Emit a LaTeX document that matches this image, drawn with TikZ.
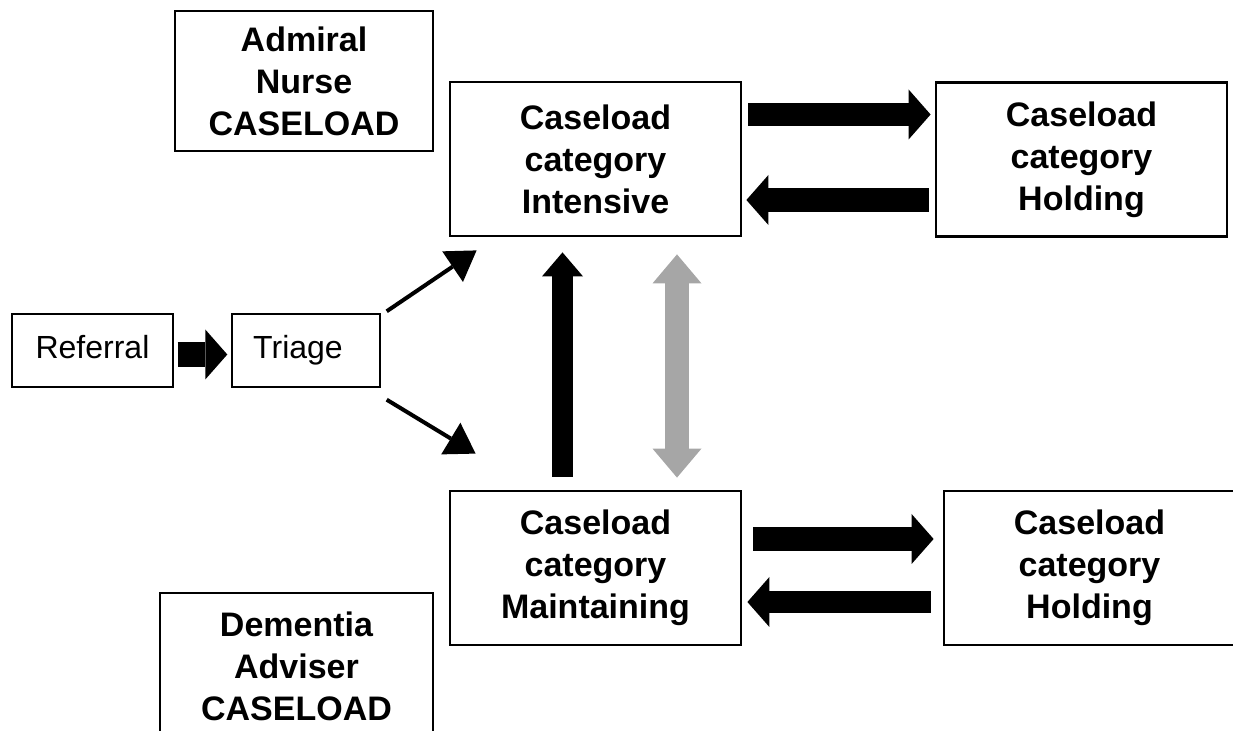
\documentclass[tikz,border=0pt]{standalone}
\usepackage{fontspec}
\setmainfont{Liberation Sans}
\usepackage{xcolor}
\usetikzlibrary{arrows.meta,positioning,calc}

\definecolor{arrowgrey}{HTML}{A6A6A6}

\tikzset{
  catbox/.style={draw, line width=1.4pt, inner sep=0pt, align=center,
    font=\bfseries\fontsize{17}{21}\selectfont,
    minimum width=145.5pt, minimum height=77pt},
  staffbox/.style={draw, line width=0.7pt, inner sep=0pt, align=center,
    font=\bfseries\fontsize{17}{21}\selectfont},
  flowbox/.style={draw, line width=0.7pt, inner sep=0pt,
    font=\fontsize{16}{20}\selectfont, minimum height=36.5pt,
    text height=11.5pt, text depth=3.5pt},
  fatarrow/.style={line width=11.5pt,
    -{Triangle[length=11pt,width=25pt,line width=0pt]}},
  thinarrow/.style={line width=2pt,
    -{Triangle[length=14.5pt,width=18.5pt,line width=0pt]}},
}

\begin{document}
\begin{tikzpicture}[x=0.5pt,y=-0.5pt]
    \useasboundingbox (0,0) rectangle (1233,731);
    \clip (0,0) rectangle (1233,731);

    % Staff caseloads
    \node[staffbox, minimum width=129pt, minimum height=70pt] (admiral) at (304,81)
      {Admiral\\Nurse\\CASELOAD};
    \node[staffbox, minimum width=136.5pt, minimum height=73.5pt] (dementia) at (296.5,666.5)
      {Dementia\\Adviser\\CASELOAD};

    % Entry
    \node[flowbox, minimum width=80.5pt] (referral) at (92.5,350.5) {Referral};
    \node[flowbox, minimum width=74pt] (triage) at (306,350.5) {Triage\hspace*{8pt}};

    % Caseload categories
    \node[catbox] (intensive) at (595.5,159) {Caseload\\category\\Intensive};
    \node[catbox] (holdtop) at (1081.5,159.5) {Caseload\\category\\Holding};
    \node[catbox] (maintain) at (595.5,568) {Caseload\\category\\Maintaining};
    \node[catbox] (holdbot) at (1089.5,568) {Caseload\\category\\Holding};

    % Referral to triage
    \coordinate (rt) at ($(referral.east)+(4,4)$);
    \draw[fatarrow, line width=12.5pt, shorten >=2pt] (rt) -- (rt -| triage.west);

    % Triage to categories
    \draw[thinarrow] ($(triage.north east)+(6,-2)$) -- ($(intensive.south west)+(28,13)$);
    \draw[thinarrow] ($(triage.south east)+(6,12)$) -- ($(maintain.north west)+(27,-36)$);

    % Intensive <-> holding
    \coordinate (ih) at ($(intensive.east)+(6,-44.5)$);
    \coordinate (hi) at ($(holdtop.west)+(-6,40.5)$);
    \draw[fatarrow, shorten >=2pt] (ih) -- (ih -| holdtop.west);
    \draw[fatarrow, line width=12pt, shorten >=2pt] (hi) -- (hi -| intensive.east);

    % Maintaining <-> holding
    \coordinate (mh) at ($(maintain.east)+(11,-29)$);
    \coordinate (hm) at ($(holdbot.west)+(-12,34)$);
    \draw[fatarrow, line width=12pt, shorten >=4.5pt] (mh) -- (mh -| holdbot.west);
    \draw[fatarrow, line width=11pt, shorten >=2.5pt] (hm) -- (hm -| maintain.east);

    % Maintaining to intensive
    \coordinate (mi) at ($(maintain.north)+(-33,-13)$);
    \draw[line width=10.5pt, -{Triangle[length=12pt,width=20.5pt,line width=0pt]},
      shorten >=7.5pt] (mi) -- (mi |- intensive.south);

    % Two way
    \coordinate (tw) at ($(maintain.north)+(81.5,-12)$);
    \draw[arrowgrey, line width=12pt,
      {Triangle[length=14.5pt,width=24.5pt,line width=0pt]}-{Triangle[length=14.5pt,width=24.5pt,line width=0pt]},
      shorten >=8.5pt] (tw) -- (tw |- intensive.south);
\end{tikzpicture}
\end{document}
